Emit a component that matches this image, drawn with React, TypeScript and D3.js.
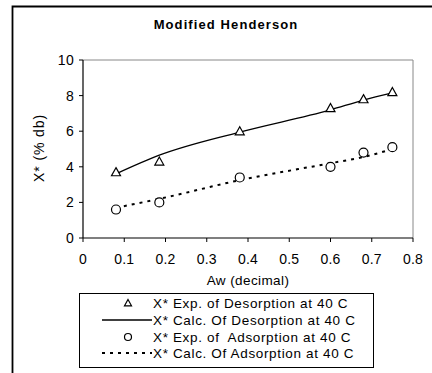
import React from "react";
import * as d3 from "d3";

// Water activity values (x) for the measured points
const awValues = [0.08, 0.185, 0.38, 0.6, 0.68, 0.75];
// Experimental moisture content, desorption at 40 C
const desorptionExp = [3.7, 4.3, 6.0, 7.3, 7.8, 8.2];
// Modified Henderson fit, desorption
const desorptionCalc = [3.6, 4.65, 5.95, 7.2, 7.75, 8.15];
// Experimental moisture content, adsorption at 40 C
const adsorptionExp = [1.6, 2.0, 3.4, 4.0, 4.8, 5.1];
// Modified Henderson fit, adsorption
const adsorptionCalc = [1.7, 2.2, 3.25, 4.2, 4.55, 5.0];

const xTicks = [0, 0.1, 0.2, 0.3, 0.4, 0.5, 0.6, 0.7, 0.8];
const yTicks = [0, 2, 4, 6, 8, 10];

const legendLabels = [
  "X* Exp. of Desorption at 40 C",
  "X* Calc. Of Desorption at 40 C",
  "X* Exp. of  Adsorption at 40 C",
  "X* Calc. Of Adsorption at 40 C",
];

const W = 432;
const H = 373;
const plot = { left: 83, right: 413, top: 60, bottom: 238 };
const font = "'Liberation Sans', Arial, sans-serif";

function triPath(cx: number, cy: number, s = 4.5) {
  return `M${cx},${cy - s}L${cx + s},${cy + s * 0.8}L${cx - s},${cy + s * 0.8}Z`;
}

export default function App() {
  const x = d3.scaleLinear().domain([0, 0.8]).range([plot.left, plot.right]);
  const y = d3.scaleLinear().domain([0, 10]).range([plot.bottom, plot.top]);

  const line = d3
    .line<[number, number]>()
    .x((d) => x(d[0]))
    .y((d) => y(d[1]))
    .curve(d3.curveMonotoneX);

  const desCalcPts = awValues.map((a, i) => [a, desorptionCalc[i]] as [number, number]);
  const adsCalcPts = awValues.map((a, i) => [a, adsorptionCalc[i]] as [number, number]);

  const legendRowsY = [303, 320, 337, 353];

  return (
    <svg
      width={W}
      height={H}
      style={{ position: "absolute", left: 0, top: 0, background: "#fff" }}
      fontFamily={font}
    >
      <rect x={0} y={0} width={W} height={H} fill="#fff" />
      {/* outer chart frame */}
      <path d={`M12.5,${H}V6.5H${W}`} fill="none" stroke="#000" strokeWidth={1.8} />

      <text x={226} y={29} textAnchor="middle" fontSize={13} fontWeight="bold" letterSpacing={1.1}>
        Modified Henderson
      </text>

      {/* plot frame */}
      <path
        d={`M${plot.left},${plot.top}H${plot.right}V${plot.bottom}`}
        fill="none"
        stroke="#888"
        strokeWidth={1}
      />

      {/* y axis */}
      <line x1={plot.left} x2={plot.left} y1={plot.top} y2={plot.bottom} stroke="#000" strokeWidth={1.2} />
      {yTicks.map((t) => (
        <g key={`y${t}`}>
          <line x1={plot.left - 4} x2={plot.left} y1={y(t)} y2={y(t)} stroke="#000" />
          <text x={plot.left - 9} y={y(t) + 5} textAnchor="end" fontSize={14} letterSpacing={0.3}>
            {t}
          </text>
        </g>
      ))}

      {/* x axis */}
      <line x1={plot.left} x2={plot.right} y1={plot.bottom} y2={plot.bottom} stroke="#000" strokeWidth={1.2} />
      {xTicks.map((t) => (
        <g key={`x${t}`}>
          <line x1={x(t)} x2={x(t)} y1={plot.bottom} y2={plot.bottom + 4} stroke="#000" />
          <text x={x(t)} y={plot.bottom + 26} textAnchor="middle" fontSize={14} letterSpacing={0.2}>
            {t}
          </text>
        </g>
      ))}

      <text x={248} y={285} textAnchor="middle" fontSize={13.5} letterSpacing={0.4}>
        Aw (decimal)
      </text>
      <text
        transform={`translate(44,148) rotate(-90)`}
        textAnchor="middle"
        fontSize={14}
        letterSpacing={0.9}
      >
        X* (% db)
      </text>

      {/* fitted curves */}
      <path d={line(desCalcPts) || ""} fill="none" stroke="#000" strokeWidth={1.3} />
      <path
        d={line(adsCalcPts) || ""}
        fill="none"
        stroke="#000"
        strokeWidth={2}
        strokeDasharray="3 5"
      />

      {/* experimental points */}
      {awValues.map((a, i) => (
        <path
          key={`t${i}`}
          d={triPath(x(a), y(desorptionExp[i]))}
          fill="#fff"
          stroke="#000"
          strokeWidth={1.2}
        />
      ))}
      {awValues.map((a, i) => (
        <circle
          key={`c${i}`}
          cx={x(a)}
          cy={y(adsorptionExp[i])}
          r={4.5}
          fill="#fff"
          stroke="#000"
          strokeWidth={1.2}
        />
      ))}

      {/* legend */}
      <rect x={79.5} y={293.5} width={294} height={74} fill="#fff" stroke="#000" strokeWidth={1} />
      <path d={triPath(128, legendRowsY[0], 3.5)} fill="#fff" stroke="#000" strokeWidth={1.2} />
      <line x1={102} x2={152} y1={legendRowsY[1]} y2={legendRowsY[1]} stroke="#000" strokeWidth={1.3} />
      <circle cx={128} cy={legendRowsY[2]} r={3.5} fill="#fff" stroke="#000" strokeWidth={1.2} />
      <line
        x1={102}
        x2={152}
        y1={legendRowsY[3]}
        y2={legendRowsY[3]}
        stroke="#000"
        strokeWidth={2}
        strokeDasharray="3 5"
      />
      {legendLabels.map((l, i) => (
        <text
          key={l}
          x={153}
          y={legendRowsY[i] + 5}
          fontSize={13.5}
          letterSpacing={0.65}
          style={{ whiteSpace: "pre" }}
        >
          {l}
        </text>
      ))}
    </svg>
  );
}
